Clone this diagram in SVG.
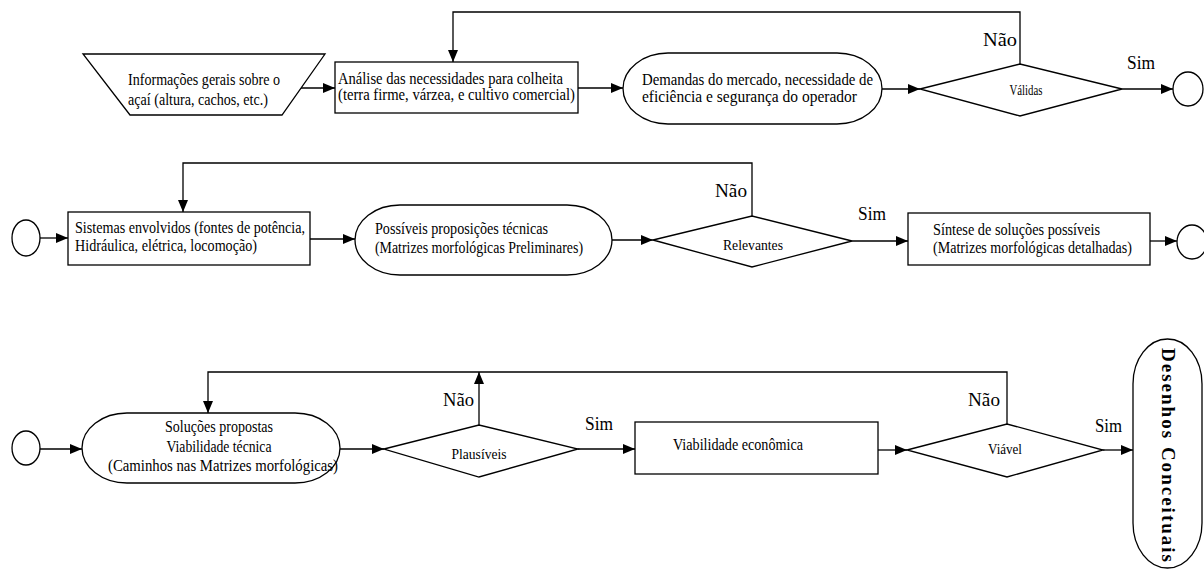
<svg xmlns="http://www.w3.org/2000/svg" width="1204" height="572" viewBox="0 0 1204 572">
<defs>
<marker id="ah" viewBox="0 0 12 10" refX="12" refY="5" markerWidth="12" markerHeight="10" markerUnits="userSpaceOnUse" orient="auto">
<path d="M0,0 L12,5 L0,10 Z" fill="#000"/>
</marker>
</defs>
<style>
.s{fill:#fff;stroke:#000;stroke-width:1.3}
text{font-family:'Liberation Serif','DejaVu Serif',serif}
.t{font-size:16px;fill:#000}
.m{text-anchor:middle}
.d{font-size:14px;fill:#000;text-anchor:middle}
.l{font-size:19px;fill:#000}
.c{fill:none;stroke:#000;stroke-width:1.3}
.a{marker-end:url(#ah)}
</style>
<rect width="1204" height="572" fill="#fff"/>
<g font-family="'Liberation Serif', 'DejaVu Serif', serif">
<g id="connectors">
<path class="c a" d="M295,88 L335,88"/>
<path class="c a" d="M578,88 L623,88"/>
<path class="c a" d="M882,89 L920,89"/>
<path class="c a" d="M1122,89 L1173,89"/>
<path class="c a" d="M1020,64 L1020,12 L453,12 L453,62"/>
<path class="c a" d="M40,238 L68,238"/>
<path class="c a" d="M310,239 L355,239"/>
<path class="c a" d="M612,240 L653,240"/>
<path class="c a" d="M852,241 L908,241"/>
<path class="c a" d="M1150,241 L1177,241"/>
<path class="c a" d="M752,216 L752,163 L183,163 L183,212"/>
<path class="c a" d="M40,449 L82,449"/>
<path class="c a" d="M340,449 L384,449"/>
<path class="c a" d="M578,449 L635,449"/>
<path class="c a" d="M878,450 L907,450"/>
<path class="c a" d="M1103,450 L1133,450"/>
<path class="c a" d="M479,425 L479,372"/>
<path class="c a" d="M1007,424 L1007,372 L208,372 L208,413"/>
<text class="l" x="983" y="46" textLength="34" lengthAdjust="spacingAndGlyphs">Não</text>
<text class="l" x="1127" y="69" textLength="28" lengthAdjust="spacingAndGlyphs">Sim</text>
<text class="l" x="715" y="197" textLength="32" lengthAdjust="spacingAndGlyphs">Não</text>
<text class="l" x="858" y="220" textLength="28" lengthAdjust="spacingAndGlyphs">Sim</text>
<text class="l" x="443" y="406" textLength="31" lengthAdjust="spacingAndGlyphs">Não</text>
<text class="l" x="585" y="430" textLength="28" lengthAdjust="spacingAndGlyphs">Sim</text>
<text class="l" x="968" y="406" textLength="32" lengthAdjust="spacingAndGlyphs">Não</text>
<text class="l" x="1095" y="432" textLength="27" lengthAdjust="spacingAndGlyphs">Sim</text>
</g>
<g id="n1">
<polygon class="s" points="83,54 325,54 282,115 130,115"/>
<text class="t" x="128" y="85" textLength="152" lengthAdjust="spacingAndGlyphs">Informações gerais sobre o</text>
<text class="t" x="128" y="105" textLength="140" lengthAdjust="spacingAndGlyphs">açaí (altura, cachos, etc.)</text>
</g>
<g id="n2">
<rect class="s" x="335" y="62" width="243" height="51"/>
<text class="t" x="338" y="84" textLength="225" lengthAdjust="spacingAndGlyphs">Análise das necessidades para colheita</text>
<text class="t" x="338" y="100" textLength="237" lengthAdjust="spacingAndGlyphs">(terra firme, várzea, e cultivo comercial)</text>
</g>
<g id="n3">
<rect class="s" x="623" y="53" width="259" height="71" rx="45" ry="35.5"/>
<text class="t" x="642" y="85" textLength="231" lengthAdjust="spacingAndGlyphs">Demandas do mercado, necessidade de</text>
<text class="t" x="642" y="102" textLength="215" lengthAdjust="spacingAndGlyphs">eficiência e segurança do operador</text>
</g>
<g id="n4">
<polygon class="s" points="920,89 1020,64 1122,89 1020,116"/>
<text class="d" x="1026" y="95" textLength="33" lengthAdjust="spacingAndGlyphs">Válidas</text>
</g>
<g id="n5">
<ellipse class="s" cx="1188" cy="89" rx="15" ry="17"/>
</g>
<g id="n6">
<ellipse class="s" cx="26" cy="238" rx="14" ry="18"/>
</g>
<g id="n7">
<rect class="s" x="68" y="212" width="242" height="53"/>
<text class="t" x="75" y="233" textLength="230" lengthAdjust="spacingAndGlyphs">Sistemas envolvidos (fontes de potência,</text>
<text class="t" x="75" y="251" textLength="182" lengthAdjust="spacingAndGlyphs">Hidráulica, elétrica, locomoção)</text>
</g>
<g id="n8">
<rect class="s" x="355" y="205" width="257" height="70" rx="45" ry="35"/>
<text class="t" x="375" y="234" textLength="173" lengthAdjust="spacingAndGlyphs">Possíveis proposições técnicas</text>
<text class="t" x="375" y="253" textLength="208" lengthAdjust="spacingAndGlyphs">(Matrizes morfológicas Preliminares)</text>
</g>
<g id="n9">
<polygon class="s" points="653,240 752,216 852,241 752,267"/>
<text class="d" x="753" y="250" textLength="60" lengthAdjust="spacingAndGlyphs">Relevantes</text>
</g>
<g id="n10">
<rect class="s" x="908" y="213" width="242" height="52"/>
<text class="t" x="933" y="235" textLength="167" lengthAdjust="spacingAndGlyphs">Síntese de soluções possíveis</text>
<text class="t" x="933" y="253" textLength="199" lengthAdjust="spacingAndGlyphs">(Matrizes morfológicas detalhadas)</text>
</g>
<g id="n11">
<ellipse class="s" cx="1192" cy="242" rx="15" ry="17"/>
</g>
<g id="n12">
<ellipse class="s" cx="26" cy="448" rx="14" ry="17"/>
</g>
<g id="n13">
<rect class="s" x="82" y="413" width="258" height="70" rx="45" ry="35"/>
<text class="t m" x="219" y="432" textLength="108" lengthAdjust="spacingAndGlyphs">Soluções propostas</text>
<text class="t m" x="219" y="452" textLength="105" lengthAdjust="spacingAndGlyphs">Viabilidade técnica</text>
<text class="t m" x="223" y="471" textLength="230" lengthAdjust="spacingAndGlyphs">(Caminhos nas Matrizes morfológicas)</text>
</g>
<g id="n14">
<polygon class="s" points="384,449 479,425 578,449 479,477"/>
<text class="d" x="479" y="459" textLength="55" lengthAdjust="spacingAndGlyphs">Plausíveis</text>
</g>
<g id="n15">
<rect class="s" x="635" y="422" width="243" height="52"/>
<text class="t" x="673" y="450" textLength="130" lengthAdjust="spacingAndGlyphs">Viabilidade econômica</text>
</g>
<g id="n16">
<polygon class="s" points="907,450 1007,424 1103,450 1007,477"/>
<text class="d" x="1005" y="454" textLength="34" lengthAdjust="spacingAndGlyphs">Viável</text>
</g>
<g id="n17">
<rect class="s" x="1133" y="339" width="69" height="229" rx="34.5" ry="45"/>
<text x="1168" y="455" transform="rotate(90 1168 455)" text-anchor="middle" dominant-baseline="central" font-size="19" font-weight="bold" textLength="214" lengthAdjust="spacing">Desenhos Conceituais</text>
</g>
</g>
</svg>
